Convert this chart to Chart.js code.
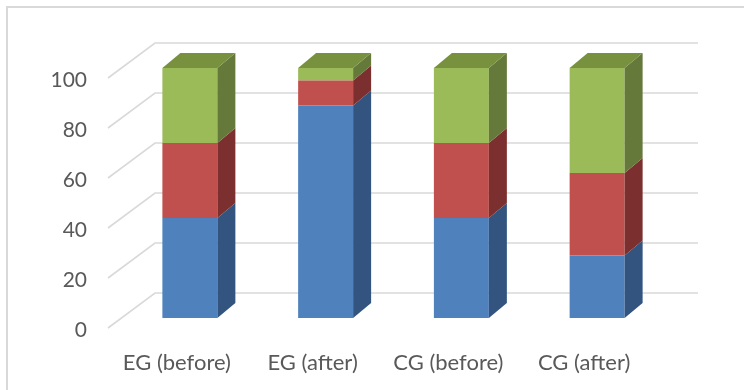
<!DOCTYPE html>
<html>
<head>
<meta charset="utf-8">
<script src="https://cdn.jsdelivr.net/npm/chart.js@4/dist/chart.umd.min.js"></script>
<style>
  html, body { margin: 0; padding: 0; background: #ffffff; }
  canvas { display: block; }
</style>
</head>
<body>
<canvas id="chart" width="744" height="390"></canvas>
<script>
// Categories and stacked series values (percent)
const categories = ['EG (before)', 'EG (after)', 'CG (before)', 'CG (after)'];
const seriesBlue = [40, 85, 40, 25];
const seriesRed = [30, 10, 30, 33];
const seriesGreen = [30, 5, 30, 42];
const yTicks = [0, 20, 40, 60, 80, 100];

// Pseudo-3D geometry (pixels)
const DEPTH_X = 18, DEPTH_Y = 15;   // bar depth
const WALL_X = 33, WALL_Y = 25;     // back wall offset from bar front plane
const FRONT_X = -14, FRONT_Y = 10;  // floor front edge offset

const GRID = '#d9d9d9';
const TEXT = '#595959';

const box3d = {
  id: 'box3d',
  beforeDraw(chart) {
    const ctx = chart.ctx;
    ctx.save();
    ctx.strokeStyle = GRID;
    ctx.lineWidth = 2;
    ctx.beginPath();
    ctx.moveTo(7, 400);
    ctx.lineTo(7, 7);
    ctx.lineTo(760, 7);
    ctx.stroke();
    ctx.restore();
  },
  beforeDatasetsDraw(chart) {
    const ctx = chart.ctx, ys = chart.scales.y, a = chart.chartArea;
    ctx.save();
    ctx.strokeStyle = GRID;
    ctx.lineWidth = 1.6;
    yTicks.forEach(v => {
      const py = ys.getPixelForValue(v);
      ctx.beginPath();
      ctx.moveTo(a.left + FRONT_X, py + FRONT_Y);
      ctx.lineTo(a.left + WALL_X, py - WALL_Y);
      ctx.lineTo(a.right + WALL_X, py - WALL_Y);
      ctx.stroke();
    });
    ctx.restore();
  },
  afterDatasetsDraw(chart) {
    const ctx = chart.ctx;
    const last = chart.data.datasets.length - 1;
    ctx.save();
    chart.data.datasets.forEach((ds, i) => {
      const meta = chart.getDatasetMeta(i);
      meta.data.forEach(bar => {
        const p = bar.getProps(['x', 'y', 'base', 'width'], true);
        const l = p.x - p.width / 2, r = p.x + p.width / 2;
        const top = Math.min(p.y, p.base), bot = Math.max(p.y, p.base);
        // right side face
        ctx.fillStyle = ds.sideColor;
        ctx.beginPath();
        ctx.moveTo(r, bot);
        ctx.lineTo(r, top);
        ctx.lineTo(r + DEPTH_X, top - DEPTH_Y);
        ctx.lineTo(r + DEPTH_X, bot - DEPTH_Y);
        ctx.closePath();
        ctx.fill();
        // top face on the last segment
        if (i === last) {
          ctx.fillStyle = ds.topColor;
          ctx.beginPath();
          ctx.moveTo(l, top);
          ctx.lineTo(r, top);
          ctx.lineTo(r + DEPTH_X, top - DEPTH_Y);
          ctx.lineTo(l + DEPTH_X, top - DEPTH_Y);
          ctx.closePath();
          ctx.fill();
        }
      });
    });
    ctx.restore();
  }
};

new Chart(document.getElementById('chart'), {
  type: 'bar',
  data: {
    labels: categories,
    datasets: [
      { data: seriesBlue, backgroundColor: '#4f81bd', sideColor: '#32547f', topColor: '#4a78b0' },
      { data: seriesRed, backgroundColor: '#c0504d', sideColor: '#7b2f2e', topColor: '#a84644' },
      { data: seriesGreen, backgroundColor: '#9bbb59', sideColor: '#65793a', topColor: '#77913e' }
    ]
  },
  plugins: [box3d],
  options: {
    responsive: false,
    animation: false,
    layout: { padding: { left: 0, right: 79, top: 68, bottom: 0 } },
    plugins: { legend: { display: false }, tooltip: { enabled: false } },
    datasets: { bar: { categoryPercentage: 1, barPercentage: 0.405, borderWidth: 0 } },
    scales: {
      x: {
        stacked: true,
        grid: { display: false, drawTicks: false },
        border: { display: false },
        ticks: { color: TEXT, font: { family: 'Lato', size: 22 }, padding: 32, labelOffset: -13, maxRotation: 0 },
        afterFit(scale) { scale.height = 72; }
      },
      y: {
        stacked: true,
        min: 0,
        max: 100,
        grid: { display: false, drawTicks: false },
        border: { display: false },
        ticks: { color: TEXT, font: { family: 'Lato', size: 21 }, stepSize: 20, padding: 35, labelOffset: 12 },
        afterFit(scale) { scale.width = 122; }
      }
    }
  }
});
</script>
</body>
</html>
